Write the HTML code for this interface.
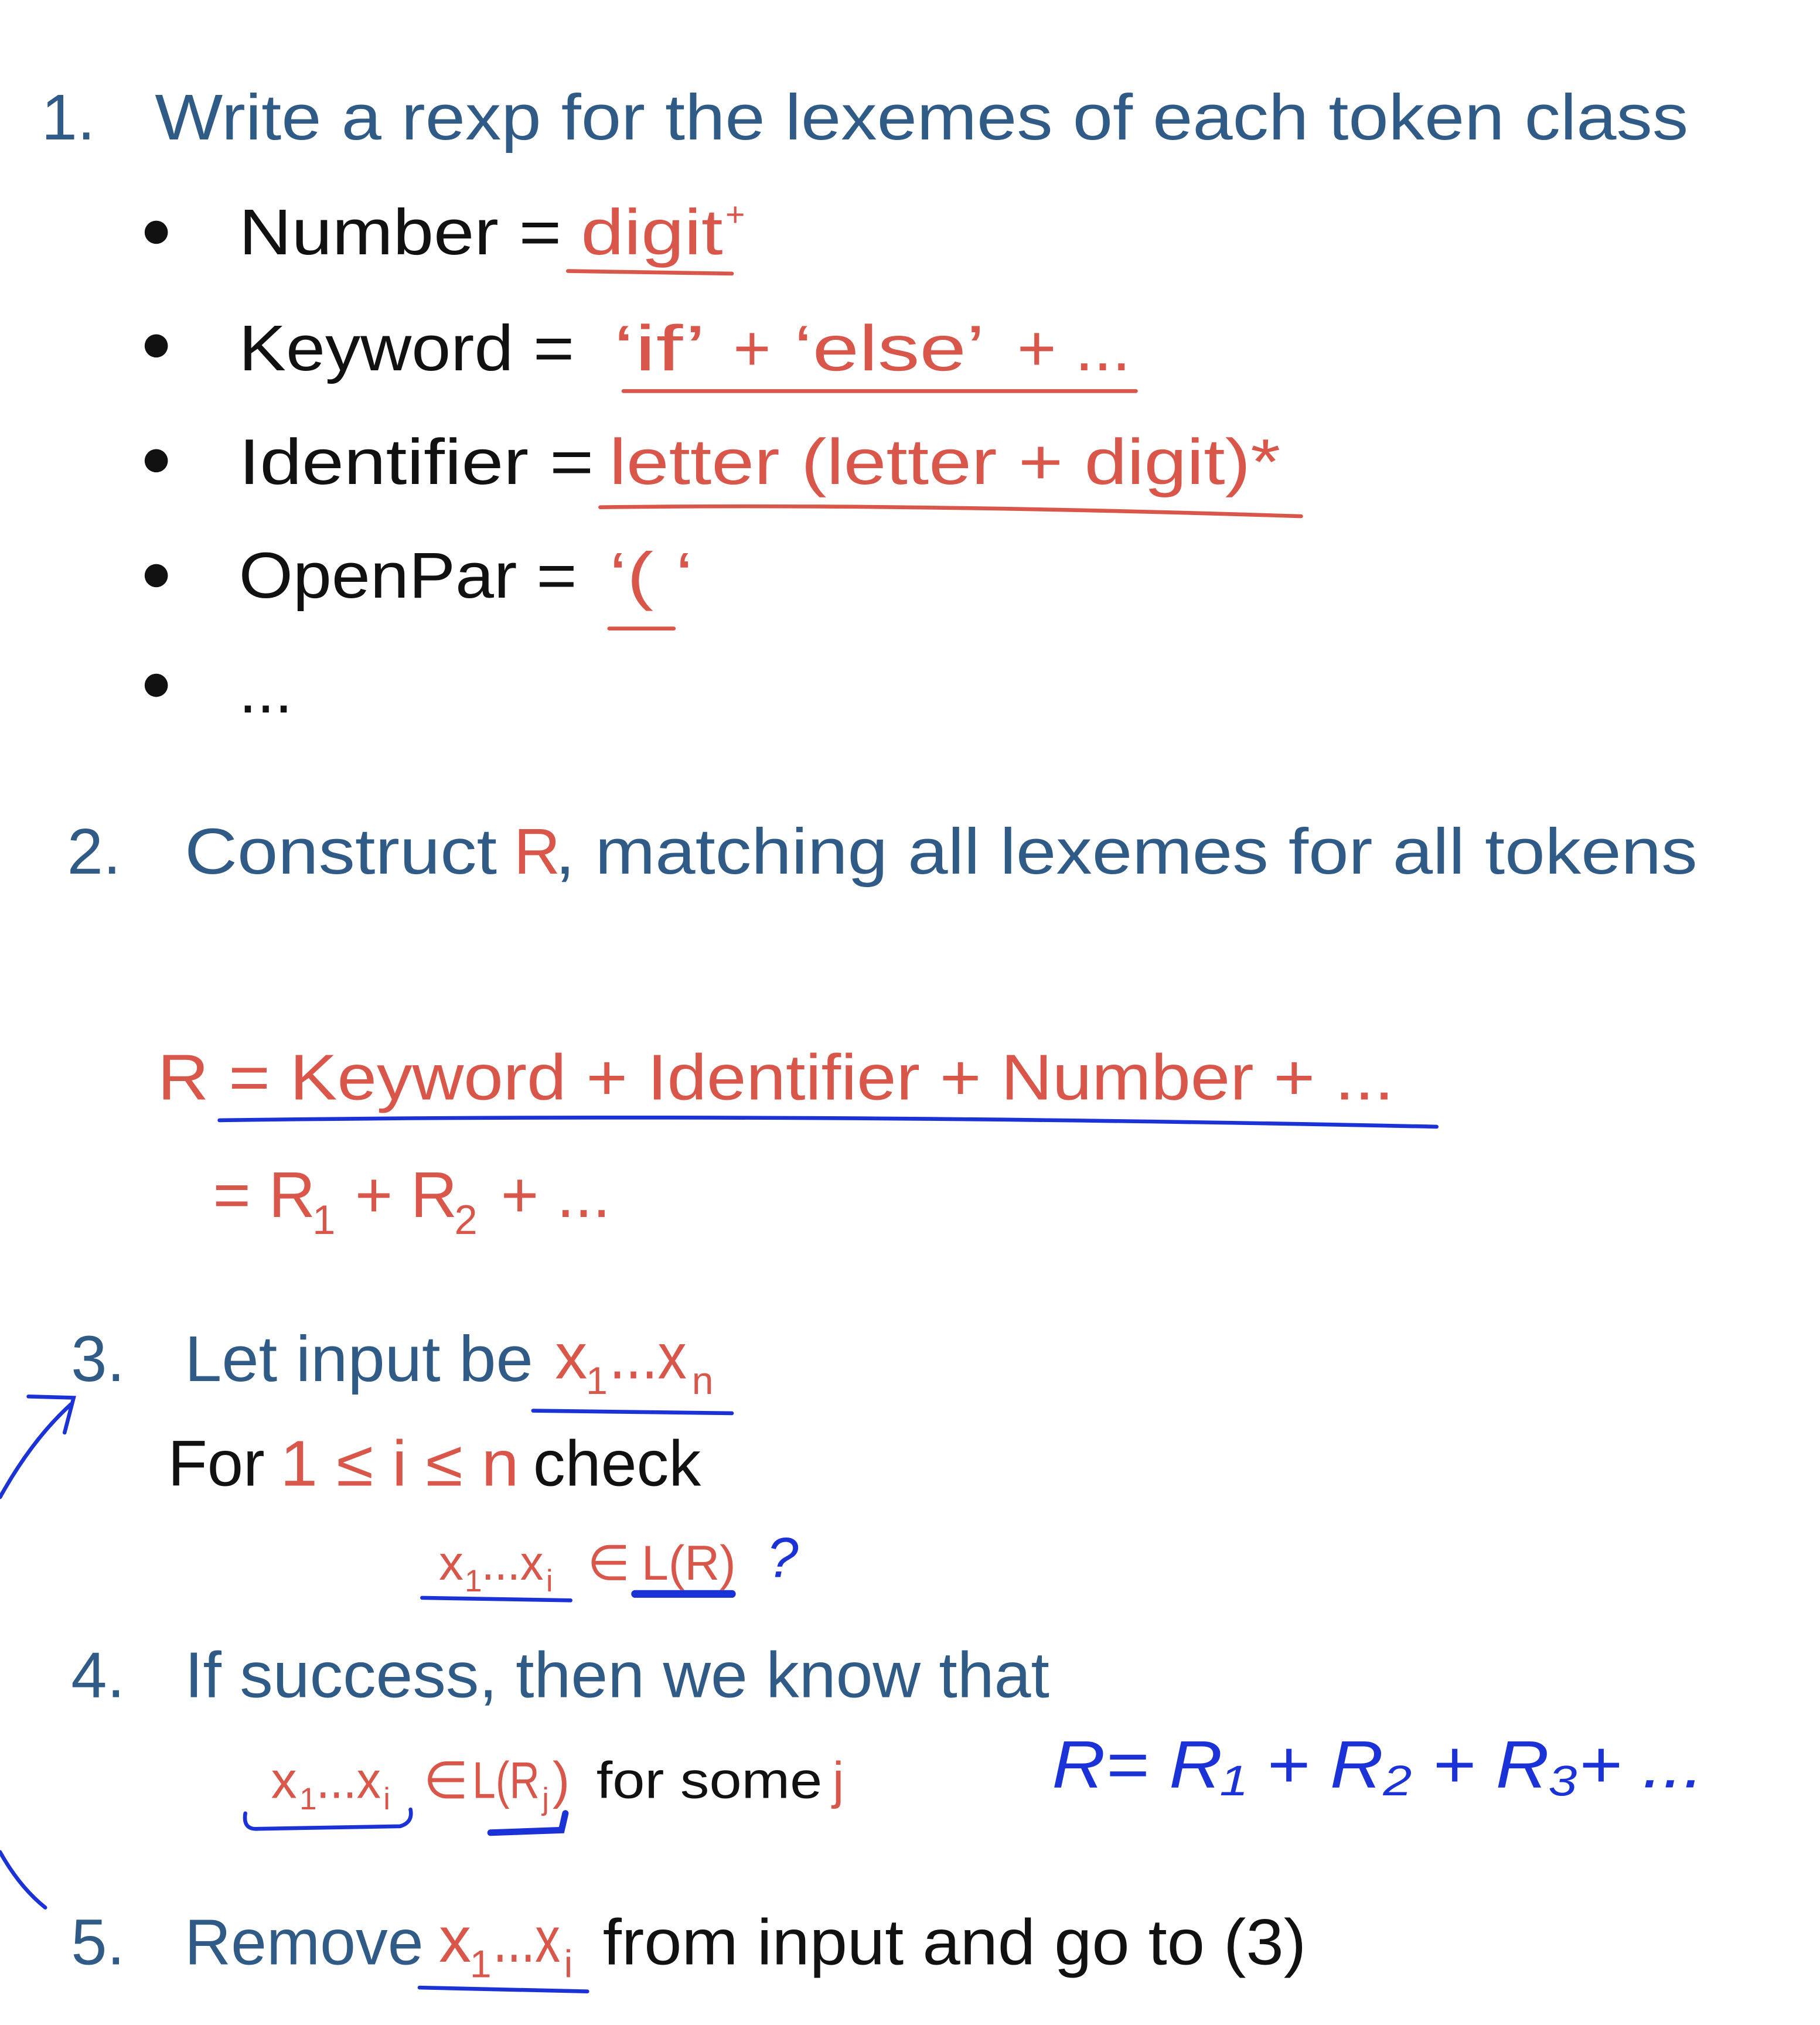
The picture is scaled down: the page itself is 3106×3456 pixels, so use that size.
<!DOCTYPE html>
<html><head><meta charset="utf-8"><style>
html,body{margin:0;padding:0;background:#fff;}
svg{display:block;}
text{font-family:"Liberation Sans",sans-serif;}
.b{fill:#2f5b86;}
.r{fill:#d9574a;}
.k{fill:#111;}
.h{fill:#1b33d6;font-style:italic;}
</style></head><body>
<svg width="3106" height="3456" viewBox="0 0 1410 1569" xmlns="http://www.w3.org/2000/svg">
<rect width="1410" height="1569" fill="#fff"/>
<g font-size="50" lengthAdjust="spacingAndGlyphs">
<text class="b" x="32" y="108">1.</text>
<text class="b" x="120" y="108" textLength="1188" lengthAdjust="spacingAndGlyphs">Write a rexp for the lexemes of each token class</text>

<circle cx="121" cy="180" r="9" fill="#111"/>
<circle cx="121" cy="268" r="9" fill="#111"/>
<circle cx="121" cy="357" r="9" fill="#111"/>
<circle cx="121" cy="446" r="9" fill="#111"/>
<circle cx="121" cy="531" r="9" fill="#111"/>

<text class="k" x="185" y="197" textLength="250" lengthAdjust="spacingAndGlyphs">Number =</text>
<text class="r" x="450" y="197" textLength="110" lengthAdjust="spacingAndGlyphs">digit</text>
<text class="r" x="562" y="175" font-size="26">+</text>

<text class="k" x="185" y="287" textLength="260" lengthAdjust="spacingAndGlyphs">Keyword =</text>
<text class="r" x="475" y="287" textLength="72" lengthAdjust="spacingAndGlyphs">‘if’</text>
<text class="r" x="568" y="287">+</text>
<text class="r" x="615" y="287" textLength="148" lengthAdjust="spacingAndGlyphs">‘else’</text>
<text class="r" x="788" y="287" textLength="88" lengthAdjust="spacingAndGlyphs">+ ...</text>

<text class="k" x="185" y="375" textLength="275" lengthAdjust="spacingAndGlyphs">Identifier =</text>
<text class="r" x="472" y="375" textLength="520" lengthAdjust="spacingAndGlyphs">letter (letter + digit)*</text>

<text class="k" x="185" y="463" textLength="262" lengthAdjust="spacingAndGlyphs">OpenPar =</text>
<text class="r" x="472" y="463" textLength="65" lengthAdjust="spacingAndGlyphs">‘( ‘</text>

<text class="k" x="185" y="552">...</text>

<text class="b" x="52" y="677">2.</text>
<text class="b" x="143" y="677" textLength="242" lengthAdjust="spacingAndGlyphs">Construct</text>
<text class="r" x="398" y="677">R</text>
<text class="b" x="430" y="677" textLength="885" lengthAdjust="spacingAndGlyphs">, matching all lexemes for all tokens</text>

<text class="r" x="122" y="852" textLength="958" lengthAdjust="spacingAndGlyphs">R = Keyword + Identifier + Number + ...</text>

<text class="r" x="165" y="943">= R</text>
<text class="r" x="242" y="956" font-size="32">1</text>
<text class="r" x="275" y="943">+ R</text>
<text class="r" x="352" y="956" font-size="32">2</text>
<text class="r" x="388" y="943" textLength="85" lengthAdjust="spacingAndGlyphs">+ ...</text>

<text class="b" x="55" y="1070">3.</text>
<text class="b" x="143" y="1070" textLength="270" lengthAdjust="spacingAndGlyphs">Let input be</text>
<text class="r" x="430" y="1068">x</text>
<text class="r" x="454" y="1080" font-size="30">1</text>
<text class="r" x="472" y="1068" textLength="60" lengthAdjust="spacingAndGlyphs">...x</text>
<text class="r" x="536" y="1080" font-size="30">n</text>

<text class="k" x="130" y="1151" textLength="75" lengthAdjust="spacingAndGlyphs">For</text>
<text class="r" x="217" y="1151" textLength="185" lengthAdjust="spacingAndGlyphs">1 ≤ i ≤ n</text>
<text class="k" x="413" y="1151" textLength="130" lengthAdjust="spacingAndGlyphs">check</text>

<text class="r" x="340" y="1224" font-size="38">x</text>
<text class="r" x="360" y="1233" font-size="24">1</text>
<text class="r" x="373" y="1224" font-size="38" textLength="48" lengthAdjust="spacingAndGlyphs">...x</text>
<text class="r" x="423" y="1233" font-size="24">i</text>
<text class="r" x="455" y="1224" font-size="38">∈</text>
<text class="r" x="497" y="1224" font-size="38" textLength="73" lengthAdjust="spacingAndGlyphs">L(R)</text>
<text class="h" x="594" y="1222" font-size="44">?</text>

<text class="b" x="55" y="1315">4.</text>
<text class="b" x="143" y="1315" textLength="670" lengthAdjust="spacingAndGlyphs">If success, then we know that</text>

<text class="r" x="210" y="1393" font-size="40">x</text>
<text class="r" x="232" y="1402" font-size="24">1</text>
<text class="r" x="245" y="1393" font-size="40" textLength="50" lengthAdjust="spacingAndGlyphs">...x</text>
<text class="r" x="297" y="1402" font-size="24">i</text>
<text class="r" x="328" y="1393" font-size="40">∈</text>
<text class="r" x="366" y="1393" font-size="40" textLength="52" lengthAdjust="spacingAndGlyphs">L(R</text>
<text class="r" x="420" y="1402" font-size="24">j</text>
<text class="r" x="428" y="1393" font-size="40">)</text>
<text class="k" x="462" y="1393" font-size="40" textLength="175" lengthAdjust="spacingAndGlyphs">for some</text>
<text class="r" x="645" y="1393" font-size="40">j</text>

<text class="h" x="815" y="1385" font-size="52" textLength="505" lengthAdjust="spacingAndGlyphs">R= R₁ + R₂ + R₃+ ...</text>

<text class="b" x="55" y="1522">5.</text>
<text class="b" x="143" y="1522" textLength="185" lengthAdjust="spacingAndGlyphs">Remove</text>
<text class="r" x="340" y="1520">x</text>
<text class="r" x="364" y="1532" font-size="30">1</text>
<text class="r" x="382" y="1520" textLength="52" lengthAdjust="spacingAndGlyphs">...x</text>
<text class="r" x="437" y="1532" font-size="30">i</text>
<text class="k" x="467" y="1522" textLength="545" lengthAdjust="spacingAndGlyphs">from input and go to (3)</text>
</g>

<g fill="none" stroke-linecap="round">
<path d="M440 210 L567 212" stroke="#d9574a" stroke-width="3"/>
<path d="M483 303 L880 303" stroke="#d9574a" stroke-width="3"/>
<path d="M465 393 Q700 390 1008 400" stroke="#d9574a" stroke-width="3"/>
<path d="M472 487 L522 487" stroke="#d9574a" stroke-width="3"/>
<path d="M170 868 Q600 862 1113 873" stroke="#1b33d6" stroke-width="3"/>
<path d="M413 1093 L567 1095" stroke="#1b33d6" stroke-width="3"/>
<path d="M327 1238 L442 1240" stroke="#1b33d6" stroke-width="3"/>
<path d="M492 1235 L567 1235" stroke="#1b33d6" stroke-width="6"/>
<path d="M190 1405 Q188 1418 200 1417 L310 1415 Q320 1412 318 1402" stroke="#1b33d6" stroke-width="3"/>
<path d="M380 1420 L435 1418 L438 1405" stroke="#1b33d6" stroke-width="5"/>
<path d="M325 1540 L455 1543" stroke="#1b33d6" stroke-width="3"/>
<path d="M0 1160 Q25 1115 55 1088" stroke="#1b33d6" stroke-width="3"/>
<path d="M22 1082 L57 1083 L50 1110" stroke="#1b33d6" stroke-width="3"/>
<path d="M0 1435 Q15 1462 35 1478" stroke="#1b33d6" stroke-width="3"/>
</g>
</svg>
</body></html>
